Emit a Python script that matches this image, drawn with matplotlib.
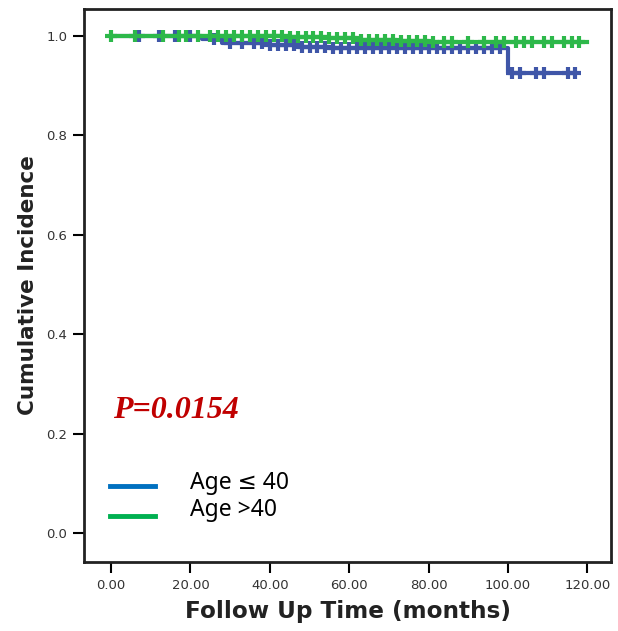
import numpy as np
import matplotlib
matplotlib.use("Agg")
import matplotlib.pyplot as plt

# Kaplan-Meier style curves (months, cumulative value)
young_step_t = [0, 23, 28, 40, 47, 55, 100, 117]
young_step_y = [1.0, 0.993, 0.985, 0.981, 0.977, 0.975, 0.925, 0.925]
young_censor = [7, 12, 16, 20, 26, 30, 33, 36, 38, 40, 42, 44, 46, 48, 50, 52,
                54, 56, 58, 60, 62, 64, 66, 68, 70, 72, 74, 76, 78, 80, 82, 84,
                86, 88, 90, 92, 94, 96, 98, 101, 103, 107, 109, 115, 117]

old_step_t = [0, 34, 45, 55, 62, 72, 80, 120]
old_step_y = [1.0, 0.999, 0.997, 0.995, 0.992, 0.989, 0.987, 0.987]
old_censor = [0, 6, 13, 17, 19, 22, 25, 27, 29, 31, 33, 35, 37, 39, 41, 43, 45,
              47, 49, 51, 53, 55, 57, 59, 61, 63, 65, 67, 69, 71, 73, 75, 77,
              79, 81, 84, 86, 90, 94, 97, 99, 102, 104, 106, 109, 111, 114,
              116, 118]

x_ticks = [0, 20, 40, 60, 80, 100, 120]
y_ticks = [0.0, 0.2, 0.4, 0.6, 0.8, 1.0]

blue = "#3f56a8"
green = "#2db84a"


def step_value(ts, ys, t):
    i = np.searchsorted(ts, t, side="right") - 1
    return ys[max(i, 0)]


fig = plt.figure(figsize=(6.18, 6.31), dpi=100)
ax = fig.add_axes([0.136, 0.109, 0.853, 0.877])

for ts, ys, cens, col in [(young_step_t, young_step_y, young_censor, blue),
                          (old_step_t, old_step_y, old_censor, green)]:
    ax.step(ts, ys, where="post", color=col, linewidth=3, zorder=3)
    cy = [step_value(ts, ys, c) for c in cens]
    ax.plot(cens, cy, linestyle="none", marker="+", markersize=8,
            markeredgewidth=3, color=col, zorder=3)

ax.set_xlim(-6.8, 126)
ax.set_ylim(-0.058, 1.054)
ax.set_xticks(x_ticks)
ax.set_xticklabels([f"{v:.2f}" for v in x_ticks])
ax.set_yticks(y_ticks)
ax.set_yticklabels([f"{v:.1f}" for v in y_ticks])
ax.tick_params(direction="out", length=8, width=1.5, labelsize=9.5,
               labelcolor="#333333", pad=4)
for s in ax.spines.values():
    s.set_linewidth(2)
    s.set_color("#222222")

ax.set_xlabel("Follow Up Time (months)", fontsize=16.7, fontweight="bold",
              color="#222222", labelpad=6)
ax.set_ylabel("Cumulative Incidence", fontsize=15.5, fontweight="bold",
              color="#222222", labelpad=6)

# p-value and manual legend
fig.text(0.183, 0.349, "P=0.0154", family="Liberation Serif", style="italic",
         fontweight="bold", fontsize=23, color="#c00000", va="center")
fig.add_artist(plt.Line2D([0.178, 0.251], [0.230, 0.230], color="#0070c0",
                          linewidth=3.5, transform=fig.transFigure))
fig.add_artist(plt.Line2D([0.178, 0.251], [0.182, 0.182], color="#00b050",
                          linewidth=3.5, transform=fig.transFigure))
fig.text(0.307, 0.235, "Age \u2264 40", family=["Noto Sans", "DejaVu Sans"],
         fontsize=16.5, va="center")
fig.text(0.307, 0.192, "Age >40", family=["Noto Sans", "DejaVu Sans"],
         fontsize=16.5, va="center")

fig.savefig("out.png", dpi=100)
